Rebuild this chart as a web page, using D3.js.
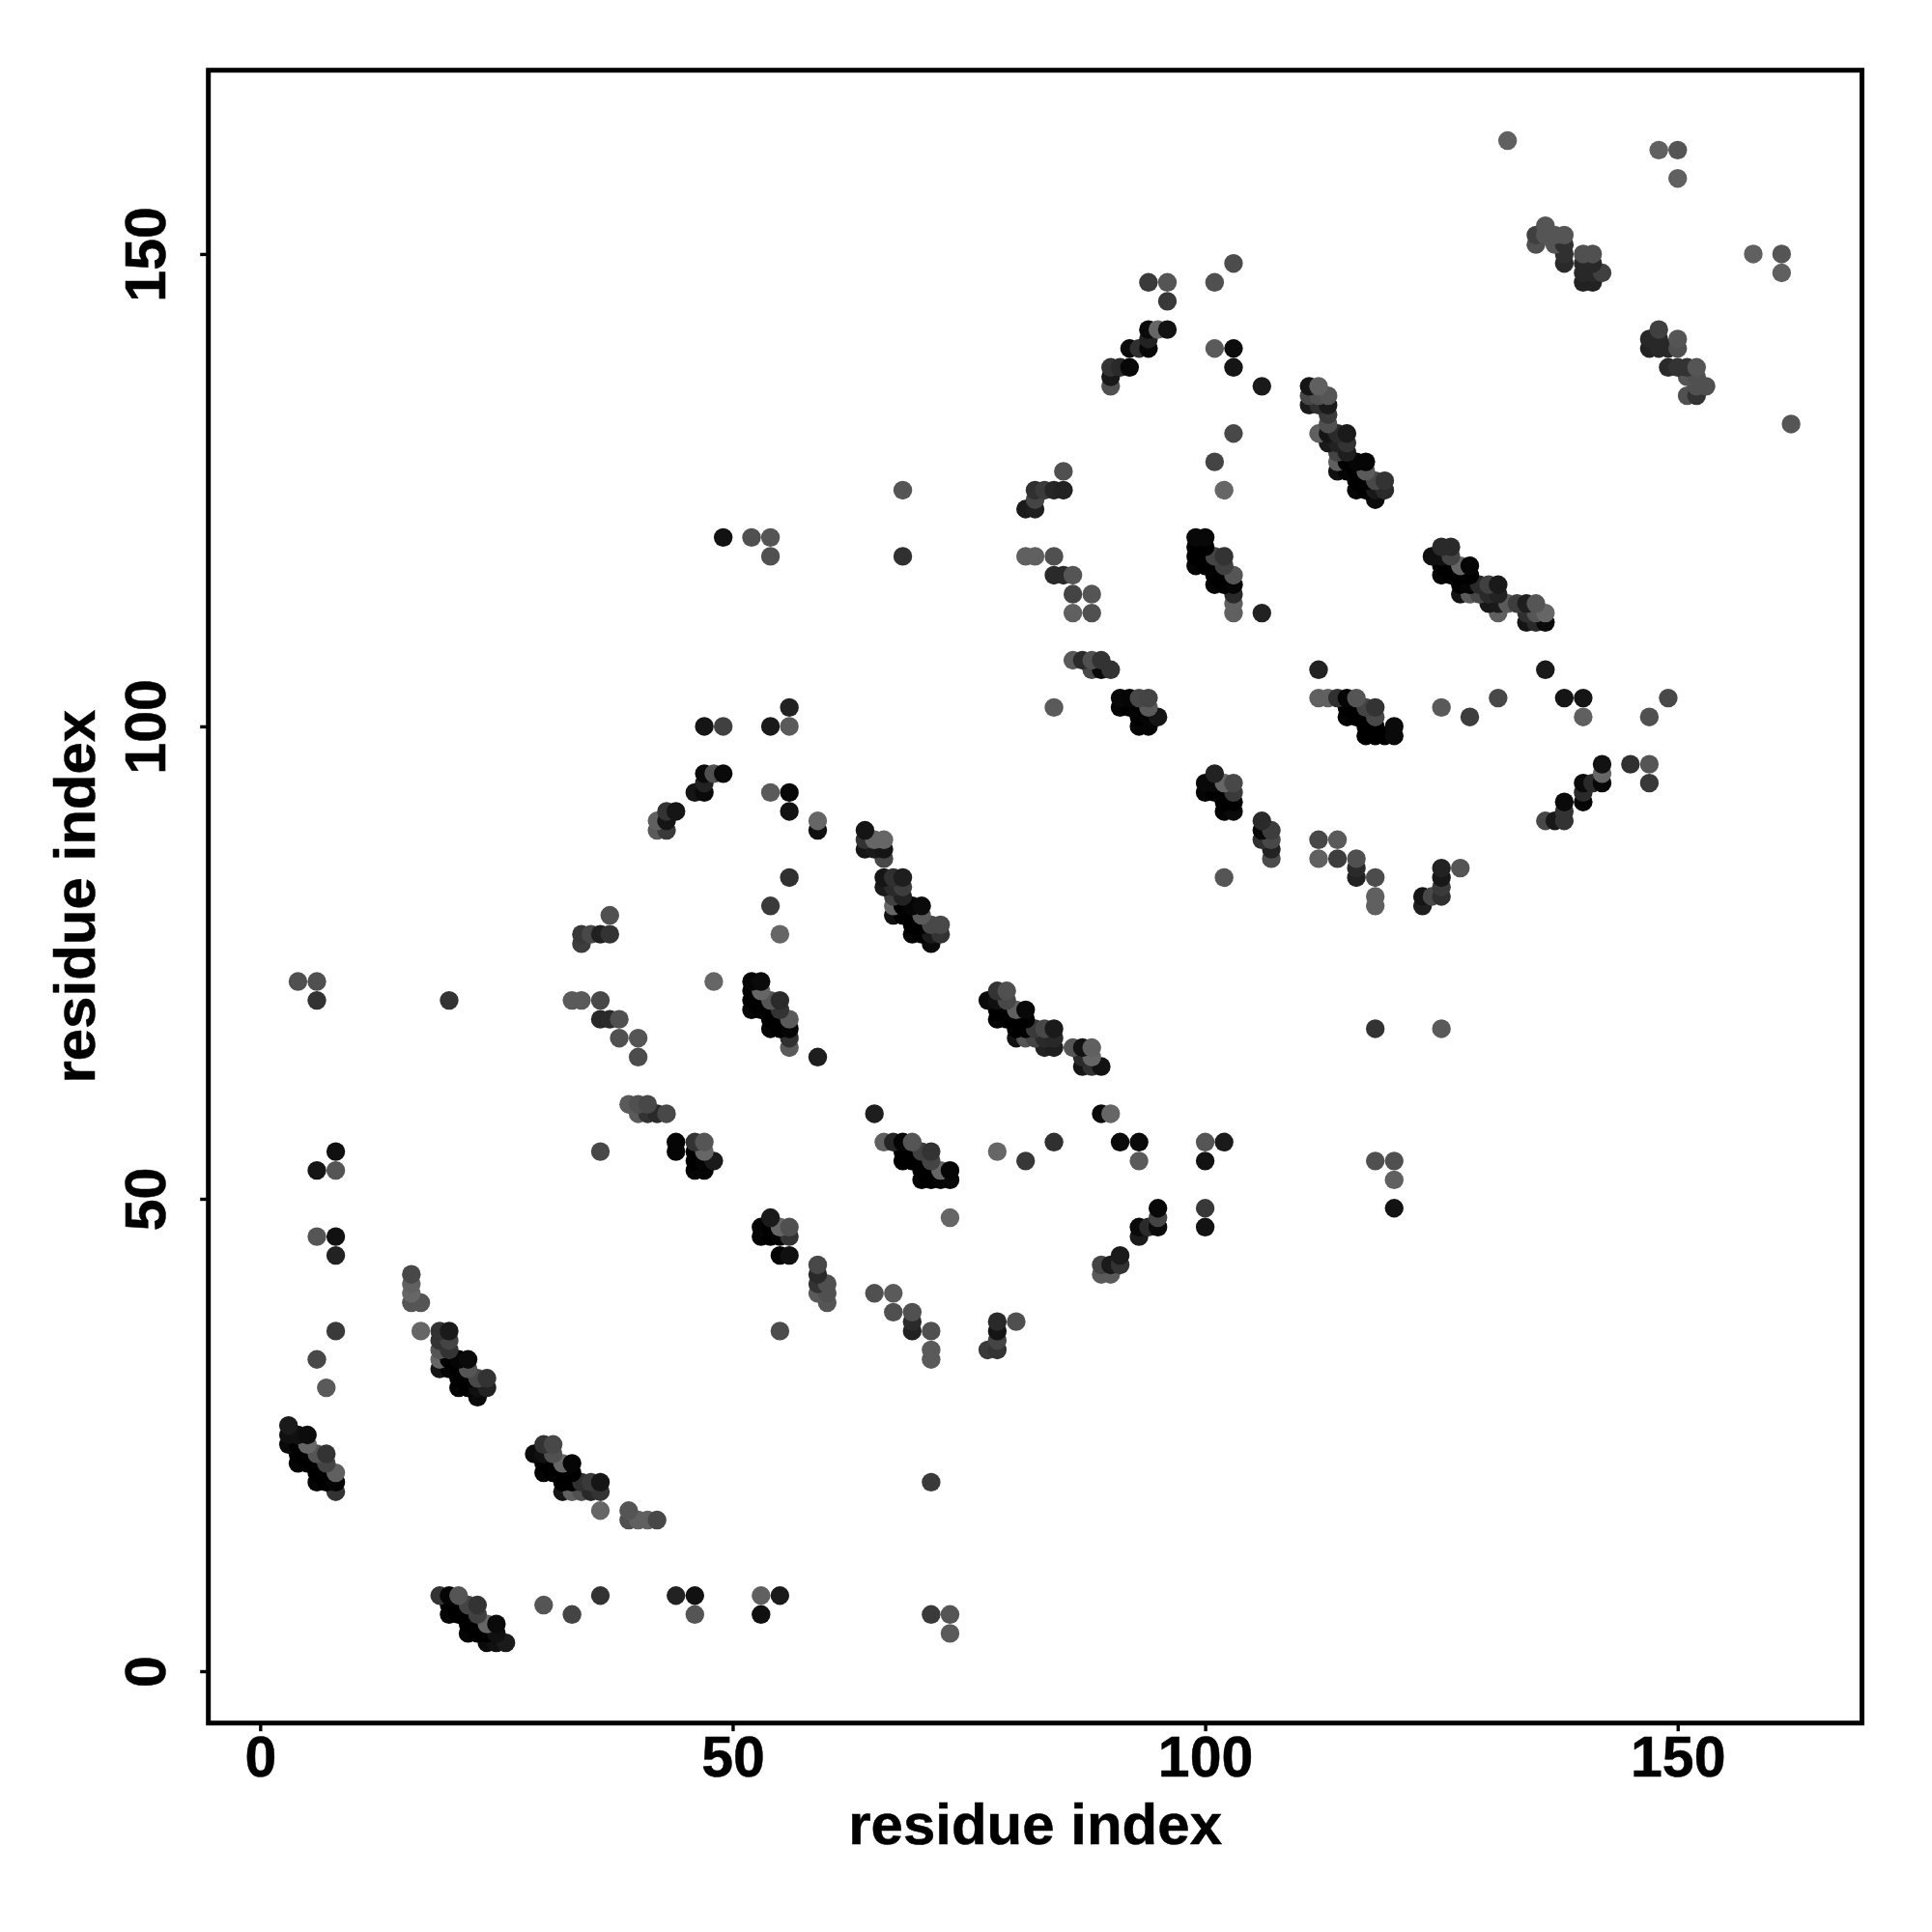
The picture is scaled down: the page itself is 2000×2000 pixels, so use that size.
<!DOCTYPE html>
<html><head><meta charset="utf-8">
<script src="https://cdn.jsdelivr.net/npm/d3@7/dist/d3.min.js"></script>
<style>html,body{margin:0;background:#fff}svg{display:block}</style>
</head><body><svg id="c" width="2000" height="2000"></svg>
<script>
// Each entry: [residue i, residue j, grey level]
const blockA=[[3,26,0x1a],[3,25,0x10],[3,24,0x0a],[4,25,0x10],[5,25,0x0c],[4,24,0],[4,23,0],[4,22,5],[5,24,0x66],[5,23,0],[5,22,0],[6,23,0x55],[6,22,0],[6,21,0],[6,20,5],[7,23,0x33],[7,22,0x44],[7,21,0],[7,20,0],[8,21,0x60],[8,20,5],[8,19,0x33]];
const blockB=[[16,42,0x48],[16,41,0x60],[16,40,0x66],[16,39,0x55],[17,39,0x55],[17,36,0x66],[19,36,0x33],[20,36,0x1a],[19,35,0x33],[20,35,0x44],[19,34,0x55],[19,33,0x66],[19,32,0x15],[20,34,0x33],[20,33,0],[20,32,5],[21,33,5],[22,33,0x0a],[21,32,0],[22,32,0x55],[21,31,0],[21,30,5],[22,31,0],[22,30,0],[23,31,0x48],[24,31,0x33],[23,30,0x10],[24,30,0x22],[23,29,0x0a]];
const blockC=[[29,23,0x0a],[30,24,0x33],[31,24,0x48],[30,23,0x10],[31,23,0x50],[32,22,0x66],[33,22,5],[30,22,0],[30,21,5],[31,22,0],[31,21,0],[32,21,0],[33,21,0],[32,20,0],[33,20,0],[32,19,0x15],[33,19,0x60],[34,20,0x30],[35,20,0x3a],[36,20,0x15],[34,19,0x50],[35,19,0x28],[36,19,0x33],[36,17,0x66],[39,17,0x55],[39,16,0x50],[40,16,0x60],[41,16,0x60],[42,16,0x48]];
const blockD=[[19,8,0x33],[20,8,5],[21,8,0x55],[20,7,0],[20,6,5],[21,7,0],[22,7,0x44],[23,7,0x33],[21,6,0],[22,6,0],[23,6,0x40],[22,5,0],[23,5,0],[24,5,0x66],[25,5,0x0a],[22,4,5],[23,4,0],[24,4,0],[25,4,0x10],[24,3,0x0a],[25,3,0x10],[26,3,0x1a]];
const isolatedLow=[[30,7,0x55],[33,6,0x44],[36,8,0x33],[44,8,0x22],[46,8,0x11],[46,6,0x55],[53,8,0x60],[55,8,0x1a],[53,6,0x10],[71,6,0x3a],[73,6,0x55],[73,4,0x5a],[71,20,0x3a],[6,46,0x55],[8,46,0x11],[8,44,0x22],[8,36,0x3a],[6,33,0x48],[7,30,0x5a],[6,53,0x15],[8,55,0x10],[8,53,0x55],[4,73,0x50],[6,73,0x50],[6,71,0x33],[20,71,0x33]];
const blockE=[[56,102,0x22],[56,100,0x5a],[54,100,0x1a],[47,100,0x15],[49,100,0x40],[47,95,0x0a],[48,95,0x50],[49,95,0x0a],[47,94,0x22],[47,93,0x0a],[46,93,0x15],[44,91,0x15],[43,91,0x33],[43,90,0x15],[43,89,0x3a],[42,90,0x60],[42,89,0x5a],[54,93,0x5a],[56,93,8],[56,91,0x12],[59,90,0x66],[59,89,0x10],[56,84,0x30],[54,81,0x3a],[55,78,0x66],[49,120,0x12],[52,120,0x50],[54,120,0x55],[54,118,0x50],[68,125,0x55],[68,118,0x30]];
const blockF=[[64,89,0x15],[64,88,0x33],[64,87,0x15],[65,88,0x66],[66,88,0x66],[65,87,0x1a],[66,87,0x15],[66,86,0x48],[66,84,0x15],[66,83,0x1a],[67,84,0x30],[68,84,0x1e],[67,83,0x2a],[68,83,0x3d],[67,82,0x40],[68,82,0x22],[67,81,0x66],[67,80,0x10],[68,81,0],[68,80,0],[69,81,5],[70,81,0x0a],[69,80,0],[70,80,0x5a],[69,79,0],[70,79,0],[71,79,0x48],[72,79,0x48],[69,78,5],[70,78,0],[71,78,0x1a],[72,78,0x33],[71,77,0x0a]];
const blockG=[[37,80,0x50],[37,78,0x33],[36,78,0x20],[35,78,0x48],[34,78,0x38],[34,77,0x3d],[48,73,0x66],[52,73,5],[53,73,0x0a],[52,72,0],[52,71,0],[52,70,5],[53,72,0x66],[53,71,0],[53,70,0],[54,71,0x55],[55,71,0x2a],[54,70,0],[55,70,0x33],[54,69,0],[54,68,5],[55,69,0],[55,68,0],[56,69,0x5a],[56,68,5],[56,67,0x30],[56,66,0x5a],[59,65,0x1e],[33,71,0x5a],[34,71,0x5a],[36,71,0x48],[36,69,0x28],[37,69,0x2a],[38,69,0x50],[38,67,0x50],[40,67,0x55],[40,65,0x4c]];
const blockH=[[39,60,0x5a],[40,60,0x50],[41,60,0x48],[40,59,0x5a],[41,59,0x33],[42,59,0x2a],[43,59,0x48],[36,55,0x48],[44,56,5],[44,55,5],[46,56,0x33],[47,56,0x55],[46,55,0],[47,55,0x66],[46,54,0],[47,54,5],[48,54,0x1a],[46,53,5],[47,53,5]];
const blockI=[[65,59,0x1e],[66,56,0x60],[67,56,0x25],[68,56,5],[69,56,0x55],[68,55,0],[68,54,0],[69,55,0],[70,55,0x40],[71,55,0x33],[69,54,0],[70,54,0],[71,54,0x44],[70,53,0],[71,53,0],[72,53,0x66],[73,53,5],[70,52,0],[71,52,0],[72,52,5],[73,52,8],[78,55,0x66]];
const blockJ=[[89,59,0x0a],[90,59,0x66],[84,56,0x30],[81,54,0x38],[91,56,0x0a],[93,56,0x0a],[93,54,0x5a],[100,56,0x55],[102,56,0x1a],[100,54,0x12],[73,48,0x66],[95,49,8],[95,48,0x44],[95,47,0x0a],[93,47,0x0a],[94,47,0x2a],[93,46,0x1a],[100,49,0x38],[100,47,0x12],[91,44,0x1a],[90,43,0x1a],[91,43,0x33],[89,43,0x44],[89,42,0x5a],[90,42,0x5a],[118,54,0x50],[120,54,0x50],[120,52,0x60],[120,49,0x12]];
const blockK=[[54,48,0x1a],[53,47,5],[54,47,0],[55,47,0x66],[56,47,0x50],[53,46,5],[54,46,0],[55,46,5],[56,46,0x33],[55,44,5],[56,44,0x10],[59,43,0x48],[59,42,0x2a],[59,41,0x33],[59,40,0x5a],[60,41,0x50],[60,40,0x50],[60,39,0x55],[55,36,0x4c],[65,40,0x50],[67,40,0x5a],[67,38,0x50],[69,38,0x50],[69,37,0x2a],[69,36,0x22],[71,36,0x50],[71,34,0x5a],[71,33,0x5a],[78,37,0x2a],[78,36,0x15],[78,35,0x44],[78,34,0x33],[77,34,0x3a],[80,37,0x50]];
const blockL=[[86,107,0x5a],[87,107,0x2a],[88,107,0x50],[89,107,0x33],[88,106,0x48],[89,106,8],[90,106,0x33],[112,106,0x22],[84,102,0x5a],[91,103,8],[92,103,5],[93,103,0x48],[94,103,0x44],[91,102,5],[92,102,0],[93,102,0],[94,102,0x5a],[93,101,0],[94,101,5],[95,101,0x15],[93,100,5],[94,100,5]];
const blockM=[[112,103,0x60],[113,103,0x60],[114,103,0x30],[115,103,5],[116,103,0x55],[115,102,0],[115,101,5],[116,102,0],[117,102,0x44],[118,102,0x33],[116,101,0],[117,101,0],[118,101,0x48],[117,100,0],[118,100,0],[117,99,0],[118,99,0],[119,99,0],[120,100,0x0a],[120,99,0x0a],[125,102,0x5a],[128,101,0x3d],[131,103,0x48],[136,106,0x1a],[138,103,0x15],[140,103,0x15],[140,101,0x60],[147,101,0x50],[149,103,0x48]];
const blockN=[[101,95,0x22],[100,94,8],[101,94,8],[102,94,0x66],[103,94,0x48],[100,93,5],[101,93,0],[102,93,0],[103,93,0x3a],[102,92,0],[103,92,0],[102,91,5],[103,91,0x0a],[106,90,0x2a],[106,89,8],[106,88,0x30],[107,89,0x3d],[107,88,0x48],[107,87,0x22],[107,86,0x4c],[102,84,0x55],[112,88,0x48],[114,88,0x5a],[112,86,0x60],[114,86,0x3d],[116,86,0x50],[116,85,0x2a],[116,84,0x22],[118,84,0x4c],[118,82,0x60],[118,81,0x60],[125,85,0x22],[125,84,0x18],[125,83,0x3a],[125,82,0x30],[127,85,0x55],[123,82,0x15],[124,82,0x48],[123,81,0x1e]];
const blockO=[[77,71,0x0a],[78,72,0x33],[79,72,0x50],[78,71,0x10],[79,71,0x48],[80,70,0x60],[81,70,8],[78,70,0],[78,69,2],[79,70,0],[79,69,0],[80,69,0],[81,69,0],[80,68,0],[81,68,0],[80,67,0x12],[81,67,0x55],[82,68,0x3a],[83,68,0x48],[84,68,0x1a],[82,67,0x44],[83,67,0x2a],[84,67,0x28],[83,66,0x22],[84,66,0x1e],[86,66,0x55],[87,66,0x12],[88,66,0x60],[87,65,0x2a],[88,65,0x66],[87,64,0x15],[88,64,0x30],[89,64,0x12],[118,68,0x33],[125,68,0x5a]];
const blockP=[[103,149,0x4c],[101,147,0x50],[94,147,0x3a],[96,147,0x55],[96,145,0x38],[94,142,0x0a],[95,142,0x66],[96,142,0x12],[94,141,0x22],[94,140,8],[92,140,0x0a],[93,140,0x30],[92,138,8],[91,138,0x2a],[90,138,0x33],[90,137,0x18],[90,136,0x50],[101,140,0x5a],[103,140,0x0c],[103,138,0x15],[106,136,0x1a],[103,131,0x48],[101,128,0x44],[102,125,0x66]];
const blockQ=[[111,136,0x15],[112,136,0x60],[111,135,0x48],[111,134,0x1a],[112,135,0x50],[112,134,0x30],[113,135,0x55],[113,134,0x1a],[113,133,0x3a],[113,132,0x50],[112,131,0x60],[113,131,0x15],[113,130,0x1a],[114,131,0x2a],[115,131,0x1a],[114,130,0x22],[115,130,0x33],[114,129,0x44],[115,129,0x1e],[114,128,0x60],[114,127,0x10],[115,128,0],[115,127,5],[116,128,5],[117,128,5],[116,127,0],[117,127,0x5a],[116,126,0],[117,126,0],[118,126,0x48],[119,126,0x33],[116,125,5],[117,125,0],[118,125,0x18],[119,125,0x2a],[118,124,0x0a]];
const blockR=[[85,127,0x50],[85,125,0x22],[84,125,0x25],[83,125,0x3a],[82,125,0x30],[82,124,0x44],[82,123,0x1e],[81,123,0x1a],[81,118,0x60],[82,118,0x60],[84,118,0x50],[84,116,0x2a],[85,116,0x2a],[86,116,0x55],[86,114,0x44],[88,114,0x55],[86,112,0x60],[88,112,0x50]];
const blockS=[[99,120,8],[100,120,8],[99,119,0],[99,118,0],[99,117,5],[100,119,0],[100,118,0],[100,117,0],[101,118,0x44],[102,118,0x33],[101,117,0],[102,117,0x40],[101,116,0],[101,115,5],[102,116,0],[102,115,0],[103,116,0x55],[103,115,5],[103,114,0x2a],[103,113,0x60],[103,112,0x60],[106,112,0x22]];
const blockT=[[124,118,0x10],[125,119,0x2a],[126,119,0x2a],[125,118,0x10],[126,118,0x44],[127,117,0x66],[128,117,5],[125,117,0],[125,116,5],[126,117,0],[126,116,0],[127,116,0],[128,116,0],[127,115,0],[128,115,5],[127,114,0x12],[128,114,0x5a],[129,115,0x2a],[130,115,0x40],[131,115,0x1a],[129,114,0x48],[130,114,0x2a],[131,114,0x22],[130,113,0x18],[131,113,0x1a],[131,112,0x60],[132,113,0x5a],[133,113,0x3d],[134,113,0x1e],[135,113,0x55],[134,112,0x30],[135,112,0x55],[136,112,0x66],[134,111,0x15],[135,111,0x2a],[136,111,0x0a]];
const blockU=[[142,96,0x12],[142,95,0x66],[142,94,8],[140,94,0x0a],[141,94,0x2a],[140,93,0x2a],[140,92,5],[138,92,0x0a],[138,91,0x33],[138,90,0x33],[137,90,0x18],[136,90,0x48],[145,96,0x30],[147,96,0x55],[147,94,0x38]];
const blockV=[[132,162,0x60],[148,161,0x60],[150,161,0x55],[150,158,0x60],[158,150,0x60],[161,150,0x55],[161,148,0x60],[162,132,0x55],[135,152,0x40],[135,151,0x50],[136,153,0x55],[136,152,0x55],[137,152,0x55],[137,151,0x55],[138,152,0x55],[138,151,0x30],[138,150,0x30],[138,149,0x2a],[140,150,0x50],[141,150,0x50],[140,149,0x28],[140,148,0x28],[140,147,0x22],[141,149,0x28],[141,148,0x28],[141,147,0x22],[142,148,0x40]];
const blockW=[[148,142,0x40],[147,141,0x28],[147,140,0x22],[148,141,0x28],[148,140,0x28],[149,140,0x28],[150,141,0x55],[150,140,0x50],[149,138,0x2a],[150,138,0x33],[151,138,0x33],[152,138,0x55],[151,137,0x55],[152,137,0x50],[153,136,0x50],[152,136,0x50],[151,135,0x50],[152,135,0x33]];

const tickValues=[0,50,100,150];
const axisTitle="residue index";

const contacts=[blockA,blockB,blockC,blockD,isolatedLow,blockE,blockF,blockG,blockH,blockI,blockJ,blockK,blockL,blockM,blockN,blockO,blockP,blockQ,blockR,blockS,blockT,blockU,blockV,blockW].flat()
  .sort((a,b)=>d3.ascending(a[1],b[1])||d3.ascending(a[0],b[0]));

const L=215.7,R=1927.5,T=72.7,B=1783.7;
const x=d3.scaleLinear().domain([-5.48,169.5]).range([L,R]);
const y=d3.scaleLinear().domain([-5.49,169.45]).range([B,T]);
const FONT='"Liberation Sans",Arial,sans-serif';
const svg=d3.select("#c");
svg.append("rect").attr("width",2000).attr("height",2000).attr("fill","#fff");

svg.append("g").selectAll("circle").data(contacts).join("circle")
  .attr("cx",d=>x(d[0])).attr("cy",d=>y(d[1])).attr("r",9.7)
  .attr("fill",d=>d3.rgb(d[2],d[2],d[2]).formatHex());

svg.append("rect").attr("x",L).attr("y",T).attr("width",R-L).attr("height",B-T)
  .attr("fill","none").attr("stroke","#000").attr("stroke-width",5);

const gx=svg.append("g").attr("transform",`translate(0,${B})`)
  .call(d3.axisBottom(x).tickValues(tickValues).tickSize(8.5).tickFormat(d3.format("d")));
const gy=svg.append("g").attr("transform",`translate(${L},0)`)
  .call(d3.axisLeft(y).tickValues(tickValues).tickSize(8.5).tickFormat(d3.format("d")));
[gx,gy].forEach(g=>{
  g.select(".domain").remove();
  g.selectAll(".tick line").attr("stroke","#000").attr("stroke-width",3.4);
  g.selectAll("text").attr("fill","#000").attr("stroke","#000").attr("stroke-width",0.5)
    .attr("font-family",FONT).attr("font-weight","bold").attr("font-size",59);
});
gx.selectAll("text").attr("y",55.5).attr("dy",0).attr("text-anchor","middle");
gy.selectAll("text").attr("x",0).attr("dy",0).attr("text-anchor","middle")
  .attr("transform","translate(-45,0) rotate(-90)");

svg.append("text").text(axisTitle).attr("x",(L+R)/2).attr("y",1909).attr("text-anchor","middle")
  .attr("font-family",FONT).attr("font-weight","bold").attr("font-size",60).attr("fill","#000")
  .attr("stroke","#000").attr("stroke-width",0.5);
svg.append("text").text(axisTitle).attr("text-anchor","middle")
  .attr("transform",`translate(98,${(T+B)/2}) rotate(-90)`)
  .attr("font-family",FONT).attr("font-weight","bold").attr("font-size",60).attr("fill","#000")
  .attr("stroke","#000").attr("stroke-width",0.5);
</script></body></html>
